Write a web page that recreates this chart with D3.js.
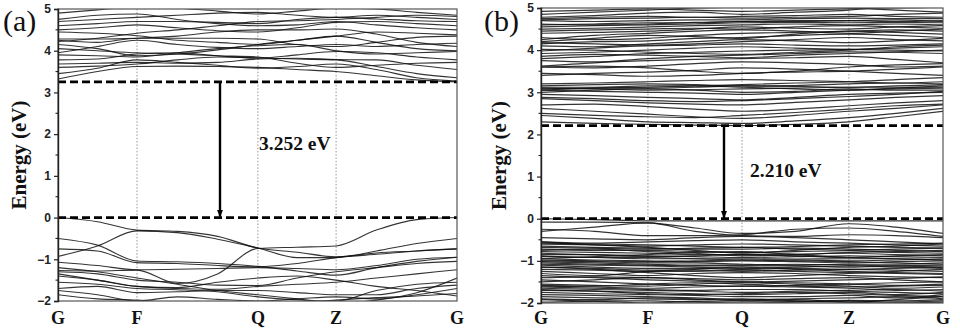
<!DOCTYPE html>
<html><head><meta charset="utf-8">
<script src="https://cdn.jsdelivr.net/npm/d3@7"></script>
<style>body{margin:0;background:#fff}svg{display:block}
.serif{font-family:"Liberation Serif","Times New Roman",serif}
.sans{font-family:"Liberation Sans",Arial,sans-serif}</style>
</head><body><svg id="c" width="960" height="332"></svg>
<script>
// ---------- DATA ----------
const kLabels = ["G","F","Q","Z","G"];
const hsPosA = [0, 0.198, 0.501, 0.697, 1];
const hsPosB = [0, 0.266, 0.5, 0.766, 1];
const kPtsA = [0, 0.099, 0.198, 0.299, 0.400, 0.501, 0.599, 0.697, 0.798, 0.899, 1];
const kPtsB = [0, 0.133, 0.266, 0.383, 0.5, 0.633, 0.766, 0.883, 1];
const yTicks = [-2,-1,0,1,2,3,4,5];
const gapA = 3.252, gapB = 2.210;
const gapLabelA = "3.252 eV", gapLabelB = "2.210 eV";

const condA = [
[3.32,3.50,3.62,3.63,3.62,3.60,3.55,3.50,3.40,3.30,3.252],
[3.45,3.58,3.78,3.72,3.65,3.58,3.62,3.68,3.55,3.35,3.27],
[3.60,3.63,3.68,3.78,3.85,3.83,3.80,3.78,3.62,3.45,3.35],
[3.68,3.70,3.72,3.70,3.72,3.80,3.82,3.79,3.78,3.65,3.55],
[3.78,3.80,3.92,3.95,3.88,3.82,3.90,3.98,3.95,3.85,3.78],
[3.90,3.88,3.85,3.95,4.05,4.12,4.15,4.00,3.92,3.95,3.98],
[4.15,4.05,3.88,3.92,4.02,4.15,4.25,4.35,4.20,4.05,4.00],
[4.25,4.20,4.30,4.30,4.30,4.28,4.15,4.10,4.20,4.32,4.35],
[4.28,4.28,4.30,4.35,4.45,4.50,4.50,4.52,4.40,4.20,4.10],
[4.45,4.42,4.36,4.25,4.20,4.15,4.25,4.35,4.45,4.42,4.38],
[4.50,4.55,4.62,4.55,4.48,4.45,4.55,4.68,4.70,4.65,4.60],
[4.60,4.65,4.70,4.70,4.68,4.65,4.75,4.80,4.76,4.72,4.70],
[4.70,4.75,4.80,4.85,4.90,4.92,4.85,4.80,4.85,4.80,4.75],
[4.75,4.85,4.88,4.75,4.65,4.60,4.62,4.70,4.62,4.55,4.50],
[4.90,4.98,5.05,5.02,4.95,4.88,4.95,5.02,5.00,4.92,4.85],
[4.22,4.30,4.42,4.50,4.60,4.70,4.72,4.75,4.80,4.85,4.82],
[4.05,4.00,3.95,3.92,3.88,3.85,3.70,3.60,3.65,3.70,3.72],
[3.95,4.10,4.25,4.15,4.08,4.05,4.10,4.15,4.10,4.15,4.18]
];
const valA = [
[0.00,-0.10,-0.30,-0.33,-0.45,-0.73,-0.83,-0.94,-0.88,-0.80,-0.75],
[-0.50,-0.66,-1.04,-1.06,-1.10,-1.17,-1.28,-1.38,-1.20,-1.05,-0.95],
[-0.75,-0.80,-1.08,-1.10,-1.15,-1.18,-1.10,-0.96,-0.85,-0.80,-0.75],
[-0.93,-0.68,-0.32,-0.36,-0.52,-0.73,-0.96,-0.96,-0.80,-0.62,-0.50],
[-1.07,-1.15,-1.25,-1.24,-1.22,-1.20,-1.22,-1.25,-1.15,-1.00,-0.95],
[-1.27,-1.28,-1.26,-1.58,-1.35,-0.74,-0.71,-0.68,-0.30,-0.05,0.00],
[-1.30,-1.35,-1.50,-1.55,-1.62,-1.63,-1.45,-1.30,-1.20,-1.10,-1.05],
[-1.40,-1.50,-1.65,-1.70,-1.72,-1.65,-1.60,-1.55,-1.45,-1.35,-1.25],
[-1.55,-1.60,-1.70,-1.73,-1.78,-1.90,-1.97,-2.00,-1.75,-1.60,-1.55],
[-1.70,-1.65,-1.80,-1.78,-1.75,-1.75,-1.80,-1.85,-1.85,-1.70,-1.62],
[-1.75,-1.85,-2.00,-1.90,-1.96,-2.00,-1.95,-1.90,-1.95,-1.85,-1.70],
[-1.85,-1.95,-1.98,-2.05,-2.10,-2.10,-2.05,-1.98,-1.92,-1.88,-1.82],
[-1.20,-1.30,-1.45,-1.60,-1.75,-1.85,-1.95,-2.05,-1.98,-1.80,-1.45],
[-1.35,-1.50,-1.65,-1.68,-1.55,-1.45,-1.40,-1.50,-1.65,-1.75,-1.88]
];
const condB = [
[2.30,2.26,2.24,2.22,2.21,2.24,2.30,2.42,2.55],
[2.45,2.38,2.30,2.28,2.26,2.32,2.40,2.50,2.62],
[2.62,2.55,2.48,2.42,2.38,2.45,2.55,2.62,2.70],
[2.70,2.72,2.66,2.60,2.55,2.60,2.68,2.75,2.80],
[2.85,2.80,2.75,2.72,2.70,2.76,2.82,2.88,2.92],
[2.95,2.92,2.88,2.85,2.82,2.88,2.95,2.98,3.00],
[3.05,3.02,3.00,2.98,2.95,3.00,3.05,3.08,3.10],
[3.10,3.08,3.05,3.06,3.08,3.10,3.12,3.12,3.12],
[3.12,3.12,3.15,3.15,3.12,3.08,3.05,3.10,3.15],
[3.15,3.18,3.20,3.18,3.15,3.16,3.20,3.22,3.20],
[3.20,3.22,3.25,3.28,3.30,3.28,3.25,3.22,3.25],
[3.40,3.45,3.48,3.52,3.58,3.55,3.50,3.45,3.40],
[3.60,3.62,3.58,3.50,3.45,3.50,3.60,3.65,3.68],
[3.62,3.70,3.75,3.78,3.80,3.82,3.85,3.78,3.70],
[3.75,3.72,3.80,3.85,3.88,3.92,3.96,3.95,3.92],
[3.80,3.85,3.92,3.95,3.98,4.00,4.02,4.00,3.98],
[3.92,3.95,4.00,4.05,4.08,4.05,4.02,4.05,4.08],
[3.98,4.05,4.10,4.12,4.15,4.12,4.10,4.12,4.15],
[4.10,4.08,4.15,4.20,4.25,4.22,4.18,4.22,4.28],
[4.15,4.20,4.22,4.28,4.30,4.35,4.38,4.35,4.30],
[4.20,4.28,4.35,4.32,4.28,4.38,4.45,4.42,4.38],
[4.25,4.35,4.40,4.45,4.48,4.45,4.40,4.45,4.50],
[4.40,4.42,4.45,4.50,4.55,4.52,4.50,4.55,4.58],
[4.50,4.52,4.55,4.58,4.60,4.62,4.60,4.62,4.60],
[4.55,4.58,4.60,4.62,4.65,4.66,4.65,4.66,4.65],
[4.60,4.62,4.65,4.65,4.68,4.70,4.70,4.68,4.70],
[4.70,4.68,4.70,4.72,4.72,4.75,4.76,4.75,4.75],
[4.75,4.78,4.80,4.78,4.80,4.82,4.85,4.80,4.78],
[4.78,4.82,4.88,4.90,4.85,4.90,4.95,5.05,5.10],
[4.85,4.90,4.95,5.00,5.02,5.05,5.00,4.95,4.90],
[3.05,3.10,3.12,3.15,3.18,3.22,3.25,3.30,3.35],
[3.45,3.42,3.38,3.40,3.45,3.48,3.50,3.55,3.60],
[2.50,2.45,2.42,2.40,2.45,2.52,2.60,2.68,2.72],
[2.88,2.85,2.80,2.78,2.80,2.85,2.90,2.95,3.02],
[3.00,3.05,3.08,3.05,3.00,3.02,3.08,3.05,3.05],
[3.08,3.10,3.10,3.12,3.15,3.14,3.12,3.15,3.18],
[3.60,3.58,3.62,3.68,3.72,3.70,3.66,3.60,3.62],
[3.85,3.90,3.88,3.85,3.82,3.88,3.92,3.96,4.00],
[4.02,4.00,3.95,3.92,3.90,3.95,4.00,4.08,4.12],
[4.18,4.15,4.12,4.15,4.20,4.25,4.30,4.25,4.22],
[4.30,4.25,4.28,4.35,4.40,4.42,4.45,4.48,4.45],
[4.45,4.48,4.50,4.52,4.50,4.55,4.58,4.55,4.52],
[4.62,4.60,4.62,4.66,4.68,4.68,4.70,4.72,4.68],
[4.72,4.75,4.76,4.78,4.76,4.78,4.80,4.85,4.88],
[4.92,4.95,4.98,4.95,4.92,4.95,4.98,5.00,5.02]
];
const valB = [
[0.00,-0.02,-0.05,-0.05,-0.05,-0.05,-0.05,-0.05,-0.05],
[-0.08,-0.08,-0.10,-0.22,-0.35,-0.30,-0.12,-0.20,-0.35],
[-0.25,-0.30,-0.40,-0.40,-0.38,-0.25,-0.22,-0.30,-0.42],
[-0.30,-0.20,-0.10,-0.30,-0.40,-0.42,-0.38,-0.40,-0.45],
[-0.45,-0.48,-0.50,-0.45,-0.42,-0.45,-0.50,-0.55,-0.60],
[-0.55,-0.58,-0.55,-0.52,-0.50,-0.55,-0.58,-0.62,-0.65],
[-0.60,-0.62,-0.65,-0.62,-0.60,-0.62,-0.65,-0.68,-0.70],
[-0.65,-0.68,-0.70,-0.72,-0.72,-0.70,-0.72,-0.75,-0.78],
[-0.72,-0.75,-0.75,-0.78,-0.80,-0.78,-0.76,-0.80,-0.82],
[-0.78,-0.80,-0.82,-0.85,-0.85,-0.84,-0.82,-0.85,-0.88],
[-0.85,-0.85,-0.88,-0.90,-0.92,-0.90,-0.88,-0.90,-0.92],
[-0.90,-0.92,-0.95,-0.95,-0.95,-0.96,-0.95,-0.95,-0.98],
[-0.95,-0.98,-1.00,-1.02,-1.00,-1.02,-1.05,-1.02,-1.00],
[-1.00,-1.02,-1.05,-1.05,-1.08,-1.10,-1.08,-1.08,-1.05],
[-1.05,-1.08,-1.10,-1.12,-1.12,-1.12,-1.15,-1.12,-1.10],
[-1.10,-1.15,-1.18,-1.18,-1.20,-1.18,-1.20,-1.18,-1.15],
[-1.20,-1.22,-1.25,-1.25,-1.22,-1.25,-1.28,-1.30,-1.32],
[-1.25,-1.30,-1.35,-1.30,-1.28,-1.30,-1.35,-1.38,-1.40],
[-1.30,-1.35,-1.25,-1.20,-1.15,-1.20,-1.25,-1.28,-1.30],
[-1.40,-1.38,-1.40,-1.42,-1.45,-1.42,-1.40,-1.45,-1.50],
[-1.50,-1.45,-1.40,-1.45,-1.50,-1.52,-1.55,-1.58,-1.55],
[-1.55,-1.58,-1.60,-1.55,-1.52,-1.55,-1.60,-1.65,-1.62],
[-1.60,-1.62,-1.65,-1.62,-1.60,-1.62,-1.65,-1.70,-1.68],
[-1.65,-1.68,-1.70,-1.72,-1.75,-1.72,-1.70,-1.68,-1.72],
[-1.70,-1.72,-1.75,-1.78,-1.80,-1.78,-1.75,-1.80,-1.75],
[-1.75,-1.78,-1.80,-1.82,-1.85,-1.85,-1.82,-1.88,-1.80],
[-1.85,-1.88,-1.90,-1.92,-1.90,-1.95,-1.98,-1.92,-1.85],
[-1.92,-1.95,-1.95,-1.98,-2.00,-1.98,-1.95,-1.98,-1.95],
[-1.98,-1.96,-2.00,-1.96,-1.95,-1.92,-1.98,-2.00,-1.98],
[-0.55,-0.62,-0.68,-0.75,-0.82,-0.75,-0.68,-0.65,-0.60],
[-0.95,-0.90,-0.85,-0.80,-0.78,-0.85,-0.92,-0.95,-0.98],
[-1.15,-1.20,-1.28,-1.35,-1.40,-1.35,-1.30,-1.25,-1.20],
[-0.58,-0.60,-0.62,-0.65,-0.68,-0.66,-0.62,-0.60,-0.58],
[-0.68,-0.70,-0.72,-0.70,-0.68,-0.72,-0.75,-0.72,-0.70],
[-0.75,-0.72,-0.78,-0.82,-0.88,-0.86,-0.80,-0.78,-0.75],
[-0.82,-0.86,-0.90,-0.88,-0.85,-0.88,-0.92,-0.88,-0.85],
[-0.88,-0.92,-0.92,-0.95,-0.98,-0.98,-1.00,-0.98,-0.95],
[-0.98,-1.00,-1.02,-1.00,-0.98,-1.00,-1.02,-1.05,-1.08],
[-1.02,-1.05,-1.08,-1.10,-1.10,-1.08,-1.10,-1.12,-1.15],
[-1.08,-1.10,-1.12,-1.15,-1.18,-1.15,-1.12,-1.15,-1.18],
[-1.15,-1.18,-1.22,-1.22,-1.25,-1.22,-1.20,-1.22,-1.25],
[-1.35,-1.40,-1.45,-1.48,-1.50,-1.48,-1.45,-1.42,-1.38],
[-1.45,-1.50,-1.55,-1.58,-1.60,-1.58,-1.55,-1.52,-1.50],
[-1.58,-1.60,-1.55,-1.52,-1.55,-1.60,-1.62,-1.60,-1.58],
[-1.62,-1.65,-1.68,-1.70,-1.68,-1.68,-1.72,-1.75,-1.78],
[-1.68,-1.72,-1.78,-1.80,-1.78,-1.75,-1.78,-1.82,-1.85],
[-1.80,-1.82,-1.85,-1.88,-1.92,-1.90,-1.88,-1.85,-1.90],
[-1.90,-1.92,-1.88,-1.90,-1.95,-1.96,-1.94,-1.95,-1.92]
];

// ---------- DRAW ----------
const svg = d3.select("#c");
const defs = svg.append("defs");
defs.append("marker").attr("id","ah").attr("viewBox","0 0 10 10").attr("refX",9).attr("refY",5)
  .attr("markerWidth",3.2).attr("markerHeight",3.2).attr("orient","auto")
  .append("path").attr("d","M0,1L10,5L0,9z").attr("fill","#000");

function panel(o){
  const x = d3.scaleLinear().domain([0,1]).range(o.xr);
  const y = d3.scaleLinear().domain([-2,5]).range(o.yr);
  const g = svg.append("g");
  const cid = "clip"+o.id;
  defs.append("clipPath").attr("id",cid).append("rect")
    .attr("x",o.xr[0]).attr("y",o.yr[1]).attr("width",o.xr[1]-o.xr[0]).attr("height",o.yr[0]-o.yr[1]);
  g.selectAll("line.hs").data(o.hs.slice(1,-1)).enter().append("line")
    .attr("x1",d=>x(d)).attr("x2",d=>x(d)).attr("y1",o.yr[1]).attr("y2",o.yr[0])
    .attr("stroke","#8a8a8a").attr("stroke-width",0.9).attr("stroke-dasharray","1.5,1.8");
  const line = d3.line().x((d,i)=>x(o.k[i])).y(d=>y(d)).curve(d3.curveMonotoneX);
  const bg = g.append("g").attr("clip-path",`url(#${cid})`);
  bg.selectAll("path.b").data(o.cond.concat(o.val)).enter().append("path")
    .attr("d",line).attr("fill","none").attr("stroke","#111").attr("stroke-opacity",o.op)
    .attr("stroke-width",o.sw);
  g.selectAll("line.ed").data([o.gap,0]).enter().append("line")
    .attr("x1",o.xr[0]).attr("x2",o.xr[1]).attr("y1",d=>y(d)).attr("y2",d=>y(d))
    .attr("stroke","#000").attr("stroke-width",2.8).attr("stroke-dasharray","8,4");
  g.append("line").attr("x1",o.ax).attr("x2",o.ax).attr("y1",y(o.gap)+1).attr("y2",y(0)-1)
    .attr("stroke","#000").attr("stroke-width",2.4).attr("marker-end","url(#ah)");
  g.append("text").attr("class","serif").attr("x",o.tx).attr("y",y(o.gap/2)+o.toff).text(o.gl)
    .attr("font-weight","bold").attr("font-size",19.5).attr("fill","#111");
  g.append("rect").attr("x",o.xr[0]).attr("y",o.yr[1]).attr("width",o.xr[1]-o.xr[0]).attr("height",o.yr[0]-o.yr[1])
    .attr("fill","none").attr("stroke","#555").attr("stroke-width",1.2);
  const ax = g.append("g").attr("transform",`translate(${o.xr[0]},0)`)
    .call(d3.axisLeft(y).tickValues(yTicks).tickSize(4).tickPadding(3).tickFormat(d3.format("d")));
  ax.attr("font-family",null);
  ax.select(".domain").attr("stroke","#222").attr("stroke-width",1.4);
  ax.selectAll(".tick line").attr("stroke","#222").attr("stroke-width",1.2);
  ax.selectAll("text").attr("class","sans").attr("font-weight","bold")
    .attr("font-size",12).attr("fill","#222");
  g.selectAll("line.mt").data(yTicks.slice(0,-1).map(v=>v+0.5)).enter().append("line")
    .attr("x1",o.xr[0]-2.5).attr("x2",o.xr[0]).attr("y1",d=>y(d)).attr("y2",d=>y(d))
    .attr("stroke","#222").attr("stroke-width",1.1);
  g.selectAll("text.kl").data(o.hs).enter().append("text").attr("class","serif")
    .attr("x",d=>x(d)).attr("y",o.ly).attr("text-anchor","middle").text((d,i)=>kLabels[i])
    .attr("font-weight","bold").attr("font-size",18).attr("fill","#111");
  g.append("text").attr("class","serif").attr("transform",`translate(${o.yt},${(o.yr[0]+o.yr[1])/2}) rotate(-90)`)
    .attr("text-anchor","middle").text("Energy (eV)")
    .attr("font-weight","bold").attr("font-size",21).attr("fill","#111");
  g.append("text").attr("class","serif").attr("x",o.px).attr("y",31).text(o.pl)
    .attr("font-size",30).attr("fill","#111");
}

panel({id:"A",xr:[58,457],yr:[301,9],hs:hsPosA,k:kPtsA,cond:condA,val:valA,gap:gapA,gl:gapLabelA,
  ax:220,tx:259,toff:0,ly:324,yt:26,px:3,pl:"(a)",sw:1.1,op:0.85});
panel({id:"B",xr:[541,943],yr:[303,8],hs:hsPosB,k:kPtsB,cond:condB,val:valB,gap:gapB,gl:gapLabelB,
  ax:724,tx:750,toff:5,ly:324,yt:506,px:484,pl:"(b)",sw:1.2,op:0.85});
</script></body></html>
